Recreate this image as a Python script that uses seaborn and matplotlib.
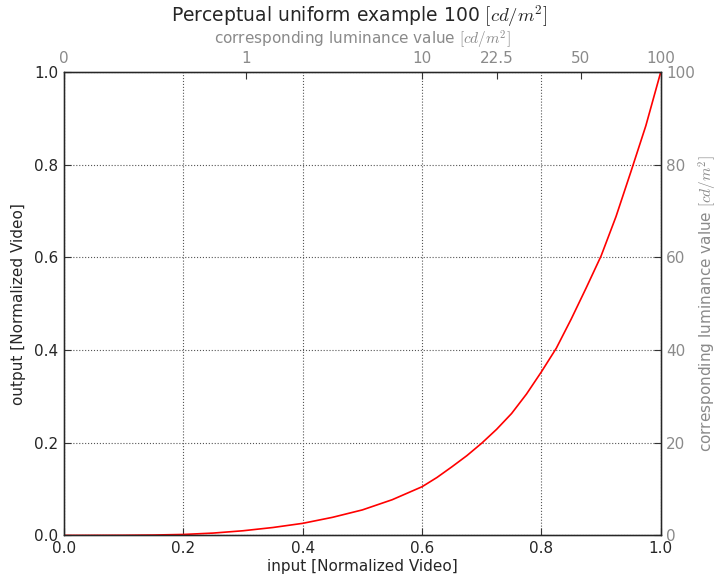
import numpy as np
import pandas as pd
import matplotlib
matplotlib.use("Agg")
import matplotlib.pyplot as plt
import seaborn as sns

# ---- data ----
input_vals = [0.0, 0.1, 0.15, 0.2, 0.25, 0.3, 0.35, 0.4, 0.45, 0.5, 0.55, 0.6,
              0.625, 0.65, 0.675, 0.7, 0.725, 0.75, 0.775, 0.8, 0.825, 0.85,
              0.875, 0.9, 0.925, 0.95, 0.975, 1.0]
output_vals = [0.0, 0.0003, 0.0008, 0.002, 0.005, 0.010, 0.017, 0.026, 0.039,
               0.055, 0.077, 0.105, 0.125, 0.148, 0.172, 0.199, 0.229, 0.263,
               0.305, 0.353, 0.404, 0.467, 0.534, 0.603, 0.688, 0.785, 0.884, 1.0]

top_tick_pos = [0.0, 0.305, 0.600, 0.725, 0.866, 1.0]
top_tick_labels = ["0", "1", "10", "22.5", "50", "100"]

bottom_ticks = [0.0, 0.2, 0.4, 0.6, 0.8, 1.0]
left_ticks = [0.0, 0.2, 0.4, 0.6, 0.8, 1.0]
right_ticks = [0, 20, 40, 60, 80, 100]

title = r"Perceptual uniform example 100 $[cd/m^2]$"
sec_label = r"corresponding luminance value $[cd/m^2]$"

sns.set_style("white")
plt.rcParams["font.family"] = ["DejaVu Sans"]
plt.rcParams["mathtext.fontset"] = "cm"
plt.rcParams["xtick.direction"] = "in"
plt.rcParams["ytick.direction"] = "in"

GRAY = "#8a8a8a"
FS = 11

fig = plt.figure(figsize=(7.19, 5.76), dpi=100)
ax = fig.add_axes([0.089, 0.0705, 0.830, 0.8045])

df = pd.DataFrame({"x": input_vals, "y": output_vals})
sns.lineplot(data=df, x="x", y="y", ax=ax, color="#ff0000", linewidth=1.2)

ax.set_xlim(0, 1)
ax.set_ylim(0, 1)
ax.set_xticks(bottom_ticks)
ax.set_yticks(left_ticks)
ax.set_xticklabels([f"{v:.1f}" for v in bottom_ticks], fontsize=FS)
ax.set_yticklabels([f"{v:.1f}" for v in left_ticks], fontsize=FS)
ax.set_xlabel("input [Normalized Video]", fontsize=FS, labelpad=2)
ax.set_ylabel("output [Normalized Video]", fontsize=FS, labelpad=6)
ax.tick_params(axis="both", direction="in", length=5, width=0.8, color="#333333",
               top=False, right=False, pad=4)
ax.grid(True, linestyle=":", color="#555555", linewidth=0.8)
for s in ax.spines.values():
    s.set_color("#222222")
    s.set_linewidth(1.0)

# right axis (luminance, linear)
axr = ax.twinx()
axr.set_ylim(0, 100)
axr.set_yticks(right_ticks)
axr.set_yticklabels([str(v) for v in right_ticks], fontsize=FS, color=GRAY)
axr.tick_params(axis="y", direction="in", length=5, color="#333333", pad=4)
axr.set_ylabel(sec_label, fontsize=FS, color=GRAY, labelpad=1)
axr.grid(False)

# top axis (luminance at input positions)
axt = ax.twiny()
axt.set_xlim(0, 1)
axt.set_xticks(top_tick_pos)
axt.set_xticklabels(top_tick_labels, fontsize=FS, color=GRAY)
axt.tick_params(axis="x", direction="in", length=5, color="#333333", pad=4)
axt.set_xlabel(sec_label, fontsize=FS, color=GRAY, labelpad=5)
axt.grid(False)

fig.text(0.5, 0.972, title, ha="center", va="center", fontsize=13.5)

fig.savefig("out.png", dpi=100)
